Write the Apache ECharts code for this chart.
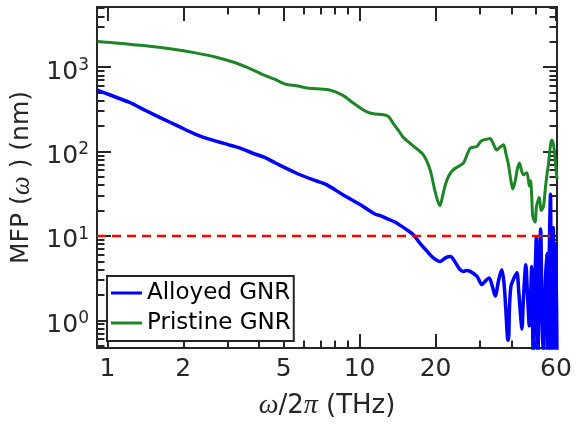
<!DOCTYPE html>
<html><head><meta charset="utf-8">
<script src="https://cdn.jsdelivr.net/npm/echarts@6/dist/echarts.min.js"></script>
<style>html,body{margin:0;padding:0;background:#fff}#c{width:584px;height:425px}</style>
</head><body><div id="c"></div>
<script>
// ---- data ----
const freqPristine = [0.913,1.0,1.418,1.8,2.236,2.7,3.22,3.6,4.11,4.6,5.08,5.6,6.28,7.53,8.52,9.34,10.2,10.8,11.5,12.3,13.0,13.6,14.3,14.9,16.4,17.9,19.05,19.9,20.8,21.4,21.9,22.6,23.4,24.5,25.8,26.6,27.4,28.2,29.2,30.1,31.0,32.0,32.9,33.8,35.0,36.0,37.2,38.0,38.9,39.8,40.5,41.4,42.2,43.0,43.8,44.6,46.0,47.1,47.6,48.1,48.6,49.6,50.2,50.9,51.6,52.4,53.5,54.7,56.0,57.8,58.7,59.5,60.6];
const mfpPristine  = [2012,1970,1791,1640,1473,1309,1126,984,822,718,628,600,563,539,468,384,318,290,278,275,260,214,175,147,115,91,60,34,22.8,31,41,52,60,66,73,90,109,112,115,130,137,140,143,125,104,112,120,95,70,45,36,45,62,73,60,53,56,39,45,30,17,14.6,22,26,28.5,20,22,41,70,137,120,84,47];
const freqAlloyed = [0.913,1.0,1.218,1.418,1.651,1.9,2.236,2.6,3.03,3.32,3.75,4.2,4.64,5.57,6.48,7.32,8.52,9.91,10.4,11.5,12.08,13.0,13.8,14.5,15.4,16.4,17.4,18.5,19.6,20.9,21.9,22.9,24.0,25.0,25.8,26.6,27.4,29.2,30.5,31.0,32.6,33.5,34.5,35.5,36.6,37.3,37.9,38.6,38.9,39.3,39.8,40.6,42.0,42.7,43.4,44.0,44.6,45.6,46.3,47.1,47.6,48.1,48.8,49.5,50.2,50.9,51.5,52.2,52.9,53.5,54.4,55.2,55.8,56.4,57.1,57.6,58.1,58.6,59.2,60.0,60.6];
const mfpAlloyed  = [534,480,384,306,245,201,160,137,120,111,96,85,73,56,46.6,41,31.2,24,22,18.2,17.4,15.8,14.6,13.3,11.8,10.2,8.1,6.6,5.5,4.97,5.5,5.7,4.8,4.0,3.8,3.9,3.8,3.32,2.66,2.77,3.17,2.6,1.94,2.9,3.98,2.9,1.5,0.6,0.58,1.5,2.54,3.0,3.65,2.3,1.2,0.79,1.8,4.55,2.0,0.86,1.8,4.3,0.35,2.5,9.6,0.35,2.5,12.1,1.0,0.35,2.5,6.2,0.35,5,31.2,0.35,3,12.5,0.35,8.1,0.35];
const thresholdFreq = [0.91, 57];
const thresholdMfp  = [10, 10];
const xMajorTicks = [1, 2, 5, 10, 20, 60];
const xMinorTicks = [3, 4, 6, 7, 8, 9, 30, 40, 50];
const yMajorTicks = [1, 10, 100, 1000];
const yMinorTicks = [];
[0.1, 1, 10, 100, 1000].forEach(d => { for (let m = 2; m <= 9; m++) yMinorTicks.push(+(d * m).toPrecision(3)); });

// ---- chart ----
const FONT = 'DejaVu Sans';
const AX = '#262626';
const xMin = 0.91, xMax = 60.6, yMin = 0.47, yMax = 5150;
const pairs = (xs, ys) => xs.map((x, i) => [x, ys[i]]);

function xAx(pos, ticks, len, line, labels, extra) {
  return Object.assign({
    type: 'log', logBase: 10, min: xMin, max: xMax, position: pos,
    axisLine: { show: line, lineStyle: { color: AX, width: 2 } },
    axisTick: { show: true, inside: true, length: len, customValues: ticks, lineStyle: { color: AX, width: 2 } },
    axisLabel: labels ? { show: true, customValues: ticks, formatter: v => String(v), margin: 9,
      fontFamily: FONT, fontSize: 25, color: AX } : { show: false },
    splitLine: { show: false }, minorTick: { show: false }
  }, extra || {});
}
function yAx(pos, ticks, len, line, labels, extra) {
  return Object.assign({
    type: 'log', logBase: 10, min: yMin, max: yMax, position: pos,
    axisLine: { show: line, lineStyle: { color: AX, width: 2 } },
    axisTick: { show: true, inside: true, length: len, customValues: ticks, lineStyle: { color: AX, width: 2 } },
    axisLabel: labels ? { show: true, customValues: ticks, margin: 8, padding: [10, 0, 0, 0],
      formatter: v => '{b|10}{s|' + Math.round(Math.log10(v)) + '}',
      rich: { b: { fontFamily: FONT, fontSize: 25, color: AX, lineHeight: 30 },
              s: { fontFamily: FONT, fontSize: 17, color: AX, lineHeight: 17, verticalAlign: 'top' } } } : { show: false },
    splitLine: { show: false }, minorTick: { show: false }
  }, extra || {});
}

const chart = echarts.init(document.getElementById('c'), null, { renderer: 'canvas' });
chart.setOption({
  animation: false,
  backgroundColor: '#fff',
  grid: { left: 97, right: 27, top: 7, bottom: 72, containLabel: false },
  xAxis: [
    xAx('bottom', xMajorTicks, 14, true, true, {
      name: '{i|ω}{n|/2}{i|π}{n| (THz)}', nameLocation: 'middle', nameGap: 44,
      nameTextStyle: { rich: {
        n: { fontFamily: FONT, fontSize: 26, color: AX },
        i: { fontFamily: 'Liberation Serif', fontStyle: 'italic', fontSize: 28, color: AX } } }
    }),
    xAx('bottom', xMinorTicks, 7.5, false, false),
    xAx('top', xMajorTicks, 14, true, false),
    xAx('top', xMinorTicks, 7.5, false, false)
  ],
  yAxis: [
    yAx('left', yMajorTicks, 14, true, true, {
      name: '{n|MFP (}{i|ω}{n| ) (nm)}', nameLocation: 'middle', nameGap: 58,
      nameTextStyle: { rich: {
        n: { fontFamily: FONT, fontSize: 25, color: AX },
        i: { fontFamily: 'Liberation Serif', fontStyle: 'italic', fontSize: 27, color: AX } } }
    }),
    yAx('left', yMinorTicks, 7.5, false, false),
    yAx('right', yMajorTicks, 14, true, false),
    yAx('right', yMinorTicks, 7.5, false, false)
  ],
  legend: {
    data: ['Alloyed GNR', 'Pristine GNR'], orient: 'vertical', left: 107, top: 276,
    icon: 'rect', itemWidth: 31, itemHeight: 3, itemGap: 4,
    padding: [4, 3, 5, 4], borderColor: AX, borderWidth: 2, backgroundColor: '#fff',
    textStyle: { fontFamily: FONT, fontSize: 23, color: '#000', lineHeight: 26 },
    selectedMode: false
  },
  series: [
    { name: 'Pristine GNR', type: 'line', data: pairs(freqPristine, mfpPristine), symbol: 'none',
      smooth: 0.3,
      clip: true, lineStyle: { color: '#1E8527', width: 3 }, itemStyle: { color: '#1E8527' } },
    { name: 'Alloyed GNR', type: 'line', data: pairs(freqAlloyed, mfpAlloyed), symbol: 'none',
      smooth: 0.3,
      clip: true, lineStyle: { color: '#0000FF', width: 3.5 }, itemStyle: { color: '#0000FF' } },
    { name: 'threshold', type: 'line', data: pairs(thresholdFreq, thresholdMfp), symbol: 'none',
      clip: true, silent: true, lineStyle: { color: '#FF0000', width: 2.5, type: [9, 6] }, itemStyle: { color: '#FF0000' } }
  ]
});
</script></body></html>
